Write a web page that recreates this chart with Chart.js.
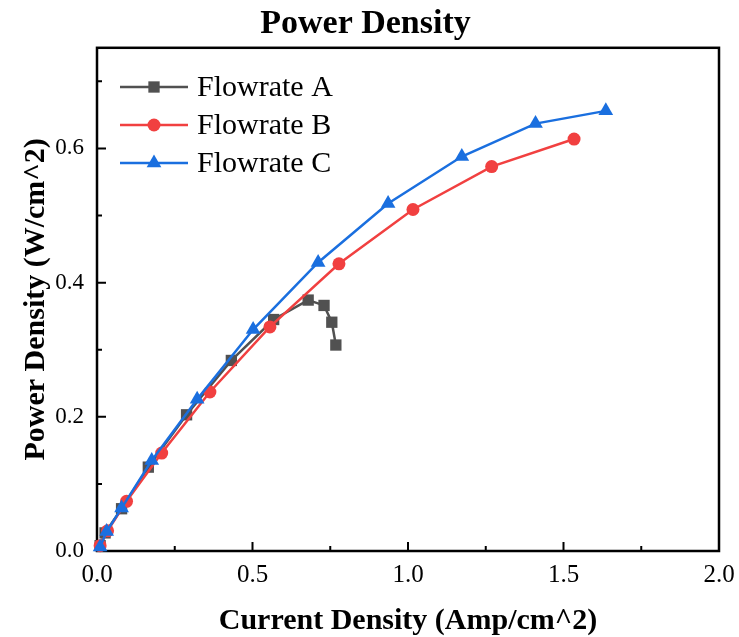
<!DOCTYPE html>
<html>
<head>
<meta charset="utf-8">
<script src="https://cdn.jsdelivr.net/npm/chart.js@4/dist/chart.umd.min.js"></script>
<style>
html,body{margin:0;padding:0;background:#fff;}
#wrap{width:739px;height:637px;}
</style>
</head>
<body>
<div id="wrap"><canvas id="c" width="739" height="637"></canvas></div>
<script>
// ---- data ----
const seriesNames = ['Flowrate A', 'Flowrate B', 'Flowrate C'];
const flowA_x = [0.010, 0.026, 0.079, 0.165, 0.288, 0.432, 0.568, 0.679, 0.730, 0.755, 0.768];
const flowA_y = [0.008, 0.027, 0.063, 0.125, 0.203, 0.284, 0.345, 0.374, 0.366, 0.341, 0.307];
const flowB_x = [0.010, 0.034, 0.095, 0.208, 0.363, 0.556, 0.778, 1.016, 1.269, 1.534];
const flowB_y = [0.008, 0.030, 0.074, 0.146, 0.237, 0.334, 0.428, 0.509, 0.573, 0.614];
const flowC_x = [0.010, 0.031, 0.079, 0.176, 0.322, 0.502, 0.711, 0.936, 1.173, 1.410, 1.636];
const flowC_y = [0.006, 0.029, 0.064, 0.135, 0.226, 0.330, 0.430, 0.518, 0.588, 0.637, 0.656];
const xMajorTicks = [0, 0.5, 1.0, 1.5, 2.0];
const xMinorTicks = [0.25, 0.75, 1.25, 1.75];
const yMajorTicks = [0, 0.2, 0.4, 0.6];
const yMinorTicks = [0.1, 0.3, 0.5, 0.7];

const colors = ['#515151', '#F14040', '#1A6FDF'];
const pStyles = ['rect', 'circle', 'triangle'];
const pRadius = [8, 6.5, 8.5];

function pts(xs, ys){ return xs.map((x,i)=>({x:x, y:ys[i]})); }
const allX = [flowA_x, flowB_x, flowC_x];
const allY = [flowA_y, flowB_y, flowC_y];

const datasets = seriesNames.map((n,i)=>({
  label: n,
  data: pts(allX[i], allY[i]),
  borderColor: colors[i],
  backgroundColor: colors[i],
  pointBackgroundColor: colors[i],
  pointBorderColor: colors[i],
  pointBorderWidth: 0,
  pointStyle: pStyles[i],
  pointRadius: pRadius[i],
  borderWidth: 2.5,
  tension: 0,
  clip: false,
  order: 3 - i
}));

const serif = "'Liberation Serif', 'Times New Roman', serif";

function drawMarker(ctx, style, x, y, r, color){
  ctx.save();
  ctx.fillStyle = color;
  ctx.beginPath();
  if (style === 'rect') {
    const s = Math.SQRT1_2 * r;
    ctx.rect(x - s, y - s, 2*s, 2*s);
  } else if (style === 'circle') {
    ctx.arc(x, y, r, 0, Math.PI*2);
  } else {
    ctx.moveTo(x, y - r);
    ctx.lineTo(x + r*Math.sin(Math.PI/3), y + r*0.5);
    ctx.lineTo(x - r*Math.sin(Math.PI/3), y + r*0.5);
    ctx.closePath();
  }
  ctx.fill();
  ctx.restore();
}

const framePlugin = {
  id: 'frame',
  beforeDatasetsDraw(chart){
    const {ctx, chartArea:a, scales:{x, y}} = chart;
    ctx.save();
    ctx.strokeStyle = '#000';
    ctx.lineWidth = 2.5;
    ctx.strokeRect(a.left, a.top, a.right - a.left, a.bottom - a.top);
    ctx.lineWidth = 2;
    ctx.beginPath();
    xMajorTicks.forEach(v=>{ const p = x.getPixelForValue(v); ctx.moveTo(p, a.bottom); ctx.lineTo(p, a.bottom - 9); });
    xMinorTicks.forEach(v=>{ const p = x.getPixelForValue(v); ctx.moveTo(p, a.bottom); ctx.lineTo(p, a.bottom - 5); });
    yMajorTicks.forEach(v=>{ const p = y.getPixelForValue(v); ctx.moveTo(a.left, p); ctx.lineTo(a.left + 9, p); });
    yMinorTicks.forEach(v=>{ const p = y.getPixelForValue(v); ctx.moveTo(a.left, p); ctx.lineTo(a.left + 5, p); });
    ctx.stroke();
    ctx.restore();
  },
  afterDatasetsDraw(chart){
    const {ctx} = chart;
    const x0 = 120, x1 = 188, tx = 197, rows = [87, 125, 163];
    ctx.save();
    seriesNames.forEach((n,i)=>{
      const yy = rows[i];
      ctx.strokeStyle = colors[i];
      ctx.lineWidth = 2.5;
      ctx.beginPath(); ctx.moveTo(x0, yy); ctx.lineTo(x1, yy); ctx.stroke();
      drawMarker(ctx, pStyles[i], (x0+x1)/2, yy, pRadius[i], colors[i]);
      ctx.fillStyle = '#000';
      ctx.font = '30px ' + serif;
      ctx.textBaseline = 'middle';
      ctx.textAlign = 'left';
      ctx.fillText(n, tx, yy + 1);
    });
    ctx.restore();
  }
};

new Chart(document.getElementById('c'), {
  type: 'line',
  data: { datasets },
  plugins: [framePlugin],
  options: {
    responsive: false,
    animation: false,
    layout: { padding: { left: 12, right: 20, top: 0, bottom: 0 } },
    plugins: {
      legend: { display: false },
      tooltip: { enabled: false },
      title: {
        display: true,
        text: 'Power Density',
        color: '#000',
        font: { family: serif, size: 34, weight: 'bold', lineHeight: 1.2 },
        padding: { top: 4, bottom: 3 }
      }
    },
    scales: {
      x: {
        type: 'linear',
        min: 0, max: 2,
        afterFit(s){ s.height = 86; s.paddingLeft = 0; s.paddingRight = 0; },
        afterBuildTicks(s){ s.ticks = xMajorTicks.map(v=>({value:v})); },
        grid: { display: false, drawTicks: false },
        border: { display: false },
        ticks: {
          color: '#000',
          padding: 9,
          maxRotation: 0,
          font: { family: serif, size: 25 },
          callback: v => Number(v).toFixed(1)
        },
        title: {
          display: true,
          text: 'Current Density (Amp/cm^2)',
          color: '#000',
          font: { family: serif, size: 30, weight: 'bold', lineHeight: 1 },
          padding: { top: 0, bottom: 1 }
        }
      },
      y: {
        type: 'linear',
        min: 0, max: 0.75,
        afterFit(s){ s.width = 85; s.paddingTop = 0; s.paddingBottom = 0; },
        afterBuildTicks(s){ s.ticks = yMajorTicks.map(v=>({value:v})); },
        grid: { display: false, drawTicks: false },
        border: { display: false },
        ticks: {
          color: '#000',
          padding: 13,
          font: { family: serif, size: 23 },
          callback: v => Number(v).toFixed(1)
        },
        title: {
          display: true,
          text: 'Power Density (W/cm^2)',
          color: '#000',
          font: { family: serif, size: 30, weight: 'bold', lineHeight: 1 },
          padding: { top: 9, bottom: 0 }
        }
      }
    }
  }
});
</script>
</body>
</html>
